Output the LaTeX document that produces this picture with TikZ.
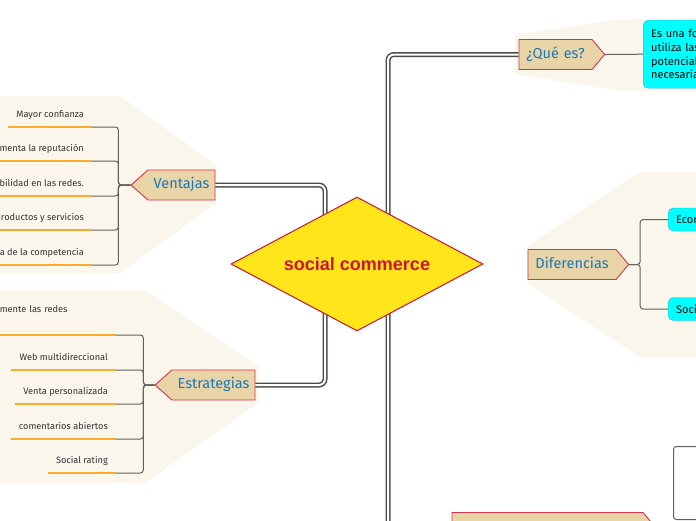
\documentclass[tikz,border=0pt]{standalone}
\usepackage{fontspec}
\setmainfont{Fira Sans}
\newfontfamily\rootfont{Liberation Sans}
\usetikzlibrary{shapes.geometric,shapes.symbols}

\definecolor{bgbeige}{HTML}{FAF6EC}
\definecolor{trunkgray}{HTML}{474D47}
\definecolor{branchgray}{HTML}{5E635B}
\definecolor{topicfill}{HTML}{E9D4A7}
\definecolor{topicred}{HTML}{D6334C}
\definecolor{topicblue}{HTML}{1C77B6}
\definecolor{rootyellow}{HTML}{FFE51A}
\definecolor{rootred}{HTML}{C9123A}
\definecolor{roottext}{HTML}{CF1330}
\definecolor{leaforange}{HTML}{FBAA2B}
\definecolor{leafgray}{HTML}{333333}
\definecolor{infocyan}{HTML}{00FFFF}
\definecolor{infoborder}{HTML}{2BB8C8}

\tikzset{
  trunk/.style={draw=trunkgray, line width=1.5pt, double=white, double distance=2pt, rounded corners=6pt},
  branch/.style={draw=branchgray, line width=1pt, rounded corners=3pt},
  topic/.style={shape=signal, draw=topicred, line width=0.9pt, fill=topicfill, text=topicblue,
    font=\fontsize{14.5}{17}\selectfont, text height=10pt, text depth=3pt,
    inner ysep=8.5pt, inner xsep=0pt, align=center},
  leaf/.style={anchor=south east, inner xsep=8pt, inner ysep=9pt, text height=6.5pt,
    text depth=0pt, text=leafgray, font=\fontsize{9.2}{11}\selectfont},
  underline/.style={draw=leaforange, line width=1.6pt},
  infobox/.style={fill=infocyan, draw=infoborder, rounded corners=5pt, text=black,
    align=left, inner xsep=8pt, font=\fontsize{11}{13.6}\selectfont},
}

\begin{document}
\begin{tikzpicture}[x=1pt, y=-1pt]
  \useasboundingbox (0,0) rectangle (696,520);
  \clip (0,0) rectangle (696,520);
  \fill[white] (0,0) rectangle (696,520);

  % Backgrounds of the topic groups
  \fill[bgbeige] (0,96) -- (120,96) -- (216,165) -- (216,203) -- (120,273) -- (0,273) -- cycle;
  \fill[bgbeige] (0,290) -- (145,290) -- (258,366) -- (258,403) -- (145,483) -- (0,483) -- cycle;
  \fill[bgbeige] (515,35) -- (615,20) -- (696,18) -- (696,92) -- (615,90) -- (515,74) -- cycle;
  \fill[bgbeige] (527,246) -- (640,172) -- (696,172) -- (696,357) -- (640,357) -- (527,283) -- cycle;

  % Main topics
  \node[topic, signal to=west, signal pointer angle=83, text width=67pt] (ventajas) at (181.5,185) {Ventajas};
  \node[topic, signal to=west, signal pointer angle=83, text width=83pt] (estrategias) at (213.5,385) {Estrategias};
  \node[topic, signal to=east, signal pointer angle=100, text width=73pt] (quees) at (555.5,54.5) {¿Qué es?};
  \node[topic, signal to=east, signal pointer angle=100, text width=88pt] (diferencias) at (572,264.5) {Diferencias};
  \node[topic, signal to=east, signal pointer angle=100, text width=191pt] (bottomtopic) at (547.5,527.5) {};

  % Leaves of Ventajas
  \node[leaf] (v1) at (92,127) {Mayor confianza};
  \node[leaf] (v2) at (92,161) {menta la reputación};
  \node[leaf] (v3) at (92,196) {bilidad en las redes.};
  \node[leaf] (v4) at (92,230) {roductos y servicios};
  \node[leaf] (v5) at (92,265) {a de la competencia};

  % Leaves of Estrategias
  \node[leaf, text width=108pt, align=left, text depth=13pt] (e1) at (116,335) {mente las redes};
  \node[leaf] (e2) at (116,370) {Web multidireccional};
  \node[leaf] (e3) at (116,404) {Venta personalizada};
  \node[leaf] (e4) at (116,439) {comentarios abiertos};
  \node[leaf] (e5) at (116,473) {Social rating};

  \foreach \n in {v1,v2,v3,v4,v5,e1,e2,e3,e4,e5}
    \draw[underline] (\n.south west) -- (\n.south east);
  \foreach \n in {v1,v2,v3,v4,v5}
    \draw[branch] (ventajas.west) -- ++(-12,0) |- (\n.south east);
  \foreach \n in {e1,e2,e3,e4,e5}
    \draw[branch] (estrategias.west) -- ++(-11,0) |- (\n.south east);

  % Cyan boxes on the right
  \node[infobox, anchor=north west, text width=60pt, minimum height=68pt] (definicion) at (643,20)
    {Es una fo\\utiliza las\\potencial\\necesaria};
  \node[infobox, anchor=west, text width=40pt, minimum height=23pt] (econ) at (668,219.5) {Econ};
  \node[infobox, anchor=west, text width=40pt, minimum height=23pt] (soci) at (668,309) {Soci};
  \node[draw=branchgray, line width=1pt, fill=white, rounded corners=3pt, anchor=north west,
    minimum width=50pt, minimum height=73pt] (bottomleaf) at (673,446) {};

  \draw[branch] (quees.east) -- (definicion.west);
  \foreach \n in {econ,soci}
    \draw[branch] (diferencias.east) -- ++(11,0) |- (\n.west);

  % Trunk connectors, hidden behind the diamond
  \coordinate (lhub) at (325,264);
  \coordinate (rhub) at (388,264);
  \draw[trunk] (ventajas.east) -| (lhub);
  \draw[trunk] (estrategias.east) -| (lhub);
  \draw[trunk] (quees.west) -| (rhub);
  \draw[trunk] (bottomtopic.west) -| (rhub);

  % Central idea
  \node[diamond, shape aspect=1.88, draw=rootred, line width=1pt, fill=rootyellow, minimum width=252pt,
    minimum height=134pt, inner sep=0pt, text=roottext,
    font=\rootfont\bfseries\fontsize{18}{20}\selectfont] (root) at (357,264) {social commerce};
\end{tikzpicture}
\end{document}
